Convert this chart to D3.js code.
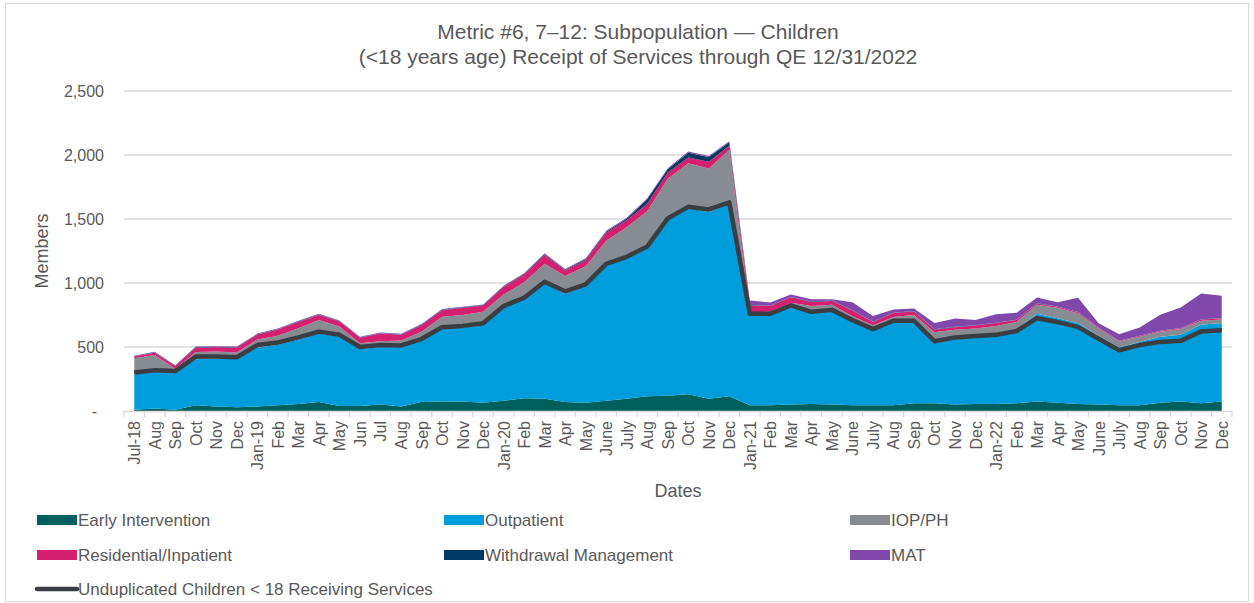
<html>
<head>
<meta charset="utf-8">
<script src="https://d3js.org/d3.v7.min.js"></script>
<style>
  body { margin: 0; background: #fff; }
  text { font-family: "Liberation Sans", Arial, sans-serif; fill: #595959; }
</style>
</head>
<body>
<svg id="chart" width="1254" height="603"></svg>
<script>
// month labels, Jul-18 .. Dec-22
const months = ["Jul-18","Aug","Sep","Oct","Nov","Dec",
  "Jan-19","Feb","Mar","Apr","May","Jun","Jul","Aug","Sep","Oct","Nov","Dec",
  "Jan-20","Feb","Mar","Apr","May","June","July","Aug","Sep","Oct","Nov","Dec",
  "Jan-21","Feb","Mar","Apr","May","June","July","Aug","Sep","Oct","Nov","Dec",
  "Jan-22","Feb","Mar","Apr","May","June","July","Aug","Sep","Oct","Nov","Dec"];

const earlyIntervention = [10,20,10,45,35,30,35,45,55,70,40,40,50,35,70,75,75,65,
  80,100,95,70,65,80,95,115,120,130,95,115,
  45,45,50,55,50,45,45,45,60,60,50,55,
  55,60,75,65,55,50,45,45,65,75,60,75];
const outpatient = [277,285,295,360,375,378,462,473,503,535,540,445,450,465,485,566,577,610,
  730,775,905,845,915,1065,1105,1165,1380,1455,1460,1505,
  705,705,765,710,735,660,585,650,640,490,530,535,
  540,580,685,660,630,535,452,495,515,520,615,610];
const iopPh = [125,132,25,55,55,50,62,70,88,105,80,45,45,50,65,95,98,100,
  100,130,150,140,150,185,235,280,315,350,340,420,
  20,25,30,55,45,35,40,40,50,65,55,55,
  70,55,70,82,78,60,45,40,40,45,30,30];
const residential = [13,18,22,35,33,38,38,48,50,40,40,42,60,45,50,52,55,50,
  58,62,68,42,48,62,55,60,48,45,52,32,
  55,45,43,32,30,45,25,30,28,20,20,22,
  22,15,8,8,8,5,5,5,5,6,10,8];
const withdrawal = [2,2,2,3,3,3,3,3,3,3,3,3,3,3,3,3,3,3,
  5,5,6,6,7,8,12,35,25,38,38,28,
  3,3,3,3,3,3,3,3,3,3,3,3,
  3,3,3,2,2,2,2,2,2,2,2,2];
const mat = [5,5,4,5,5,5,5,5,6,7,5,5,5,5,7,6,6,5,
  5,5,8,6,8,8,8,8,8,10,8,8,
  35,25,20,18,10,62,45,25,20,50,65,40,
  65,55,45,33,112,33,50,65,125,160,200,175];
const unduplicated = [300,318,312,425,425,420,515,535,575,620,595,500,515,512,562,655,665,685,
  820,885,1010,935,990,1150,1205,1285,1505,1595,1575,1630,
  760,760,825,775,790,710,640,705,705,545,575,585,
  595,625,725,695,655,565,475,515,540,548,622,630];

const seriesNames = ["Early Intervention","Outpatient","IOP/PH","Residential/Inpatient","Withdrawal Management","MAT"];
const seriesValues = [earlyIntervention, outpatient, iopPh, residential, withdrawal, mat];
const seriesColors = ["#00605d","#009ddc","#878c93","#d5206f","#003963","#8148ab"];
const lineName = "Unduplicated Children < 18 Receiving Services";
const lineColor = "#3a3d41";
const yTicks = [0,500,1000,1500,2000,2500];

const svg = d3.select("#chart");
const plotLeft = 124, plotRight = 1232, plotTop = 91, plotBottom = 411;

// outer border
svg.append("rect").attr("x",5.5).attr("y",3.5).attr("width",1243).attr("height",598)
  .attr("fill","none").attr("stroke","#d9d9d9");

// title
svg.append("text").attr("x",638).attr("y",39).attr("text-anchor","middle")
  .style("font-size","21px").text("Metric #6, 7\u201312: Subpopulation \u2014 Children");
svg.append("text").attr("x",638).attr("y",64).attr("text-anchor","middle")
  .style("font-size","21px").text("(<18 years age) Receipt of Services through QE 12/31/2022");

const x = d3.scalePoint().domain(d3.range(months.length)).range([plotLeft,plotRight]).padding(0.5);
const y = d3.scaleLinear().domain([0,2500]).range([plotBottom,plotTop]);

// gridlines + y labels
svg.append("g").selectAll("line").data(yTicks.filter(d => d > 0)).enter().append("line")
  .attr("x1",plotLeft).attr("x2",plotRight).attr("y1",d => y(d)).attr("y2",d => y(d))
  .attr("stroke","#d9d9d9").attr("stroke-width",1.3);
svg.append("g").selectAll("text").data(yTicks).enter().append("text")
  .attr("x",d => d === 0 ? 97 : 104).attr("y",d => y(d) + 5.5)
  .attr("text-anchor","end").style("font-size","16px")
  .text(d => d === 0 ? "-" : d3.format(",")(d));

// stacked areas
const table = months.map((m,i) => {
  const row = {i: i};
  seriesNames.forEach((n,k) => row[n] = seriesValues[k][i]);
  return row;
});
const stack = d3.stack().keys(seriesNames)(table);
const area = d3.area().x(d => x(d.data.i)).y0(d => y(d[0])).y1(d => y(d[1]));
svg.append("g").selectAll("path").data(stack).enter().append("path")
  .attr("d",area).attr("fill",(d,k) => seriesColors[k]);

// unduplicated line
const line = d3.line().x((d,i) => x(i)).y(d => y(d));
svg.append("path").datum(unduplicated).attr("d",line)
  .attr("fill","none").attr("stroke",lineColor).attr("stroke-width",4.5)
  .attr("stroke-linejoin","round");

// x axis
const step = x.step();
svg.append("line").attr("x1",plotLeft).attr("x2",plotRight).attr("y1",plotBottom+0.5).attr("y2",plotBottom+0.5)
  .attr("stroke","#d9d9d9").attr("stroke-width",1.3);
svg.append("g").selectAll("line").data(d3.range(months.length+1)).enter().append("line")
  .attr("x1",d => plotLeft + d*step).attr("x2",d => plotLeft + d*step)
  .attr("y1",plotBottom).attr("y2",plotBottom+6).attr("stroke","#d9d9d9").attr("stroke-width",1.3);
svg.append("g").selectAll("text").data(months).enter().append("text")
  .attr("transform",(d,i) => "translate(" + (x(i)+6) + "," + (plotBottom+10) + ") rotate(-90)")
  .attr("text-anchor","end").style("font-size","16px").text(d => d);

// axis titles
svg.append("text").attr("x",678).attr("y",497).attr("text-anchor","middle")
  .style("font-size","18px").text("Dates");
svg.append("text").attr("transform","translate(48,251) rotate(-90)").attr("text-anchor","middle")
  .style("font-size","18px").text("Members");

// legend
const legendX = [37,444,850], legendY = [520,555,589];
seriesNames.forEach((n,k) => {
  const lx = legendX[k % 3], ly = legendY[Math.floor(k / 3)];
  svg.append("rect").attr("x",lx).attr("y",ly-5).attr("width",40).attr("height",10).attr("fill",seriesColors[k]);
  svg.append("text").attr("x",lx+41).attr("y",ly+6).style("font-size","17px").text(n);
});
svg.append("line").attr("x1",legendX[0]).attr("x2",legendX[0]+40).attr("y1",legendY[2]).attr("y2",legendY[2])
  .attr("stroke",lineColor).attr("stroke-width",4.5).attr("stroke-linecap","round");
svg.append("text").attr("x",legendX[0]+41).attr("y",legendY[2]+6).style("font-size","17px").text(lineName);
</script>
</body>
</html>
